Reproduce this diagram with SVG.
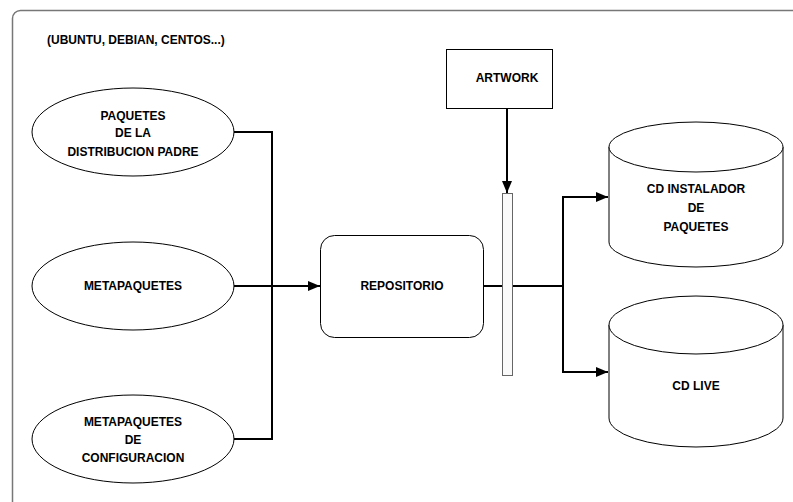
<svg xmlns="http://www.w3.org/2000/svg" width="793" height="502" viewBox="0 0 793 502">
<defs>
<style>
.t{font-family:"Liberation Sans",Arial,sans-serif;font-weight:bold;font-size:12px;fill:#000;text-anchor:middle}
.s{fill:#fff;stroke:#000;stroke-width:1}
.c{fill:none;stroke:#000;stroke-width:2}
</style>
<marker id="ah" viewBox="0 0 12 10" refX="12" refY="5" markerWidth="12" markerHeight="10" markerUnits="userSpaceOnUse" orient="auto">
<path d="M0,0 L12,5 L0,10 Z" fill="#000"/>
</marker>
</defs>
<rect x="0" y="0" width="793" height="502" fill="#fff"/>
<rect x="12.5" y="10.5" width="800" height="520" rx="8" fill="none" stroke="#777" stroke-width="1.5"/>
<text class="t" x="47" y="44" style="text-anchor:start">(UBUNTU, DEBIAN, CENTOS...)</text>

<g id="connectors">
<polyline class="c" points="233,132 272,132 272,439 233,439"/>
<line class="c" x1="233" y1="286" x2="320" y2="286" marker-end="url(#ah)"/>
<line class="c" x1="507" y1="108" x2="507" y2="193" marker-end="url(#ah)"/>
<line class="c" x1="483" y1="286" x2="563" y2="286"/>
<polyline class="c" points="563,286 563,197 608,197" marker-end="url(#ah)"/>
<polyline class="c" points="563,286 563,372 608,372" marker-end="url(#ah)"/>
</g>

<g id="paquetes">
<ellipse class="s" cx="133" cy="132" rx="101" ry="44"/>
<text class="t" x="133" y="119.5">PAQUETES</text>
<text class="t" x="133" y="137">DE LA</text>
<text class="t" x="133" y="155.5">DISTRIBUCION PADRE</text>
</g>
<g id="metapaquetes">
<ellipse class="s" cx="133" cy="286" rx="101" ry="44"/>
<text class="t" x="133" y="290">METAPAQUETES</text>
</g>
<g id="metaconfig">
<ellipse class="s" cx="133" cy="439" rx="101" ry="44"/>
<text class="t" x="133" y="426">METAPAQUETES</text>
<text class="t" x="133" y="444">DE</text>
<text class="t" x="133" y="462">CONFIGURACION</text>
</g>
<g id="repositorio">
<rect class="s" x="320.5" y="235.5" width="163" height="102" rx="14"/>
<text class="t" x="402" y="289.5">REPOSITORIO</text>
</g>
<g id="artwork">
<rect class="s" x="446.5" y="49.5" width="106" height="59"/>
<text class="t" x="507" y="82">ARTWORK</text>
</g>
<g id="bar">
<rect x="502.5" y="193.5" width="10" height="182" fill="#fafafa" stroke="#666" stroke-width="1"/>
</g>
<g id="cdinstalador">
<path class="s" d="M609,147 L609,242 A87,25 0 0 0 783,242 L783,147"/>
<ellipse class="s" cx="696" cy="147" rx="87" ry="25"/>
<text class="t" x="696" y="193">CD INSTALADOR</text>
<text class="t" x="696" y="211.5">DE</text>
<text class="t" x="696" y="231">PAQUETES</text>
</g>
<g id="cdlive">
<path class="s" d="M609,325 L609,418 A87,29 0 0 0 783,418 L783,325"/>
<ellipse class="s" cx="696" cy="325" rx="87" ry="29"/>
<text class="t" x="696" y="390">CD LIVE</text>
</g>
</svg>
